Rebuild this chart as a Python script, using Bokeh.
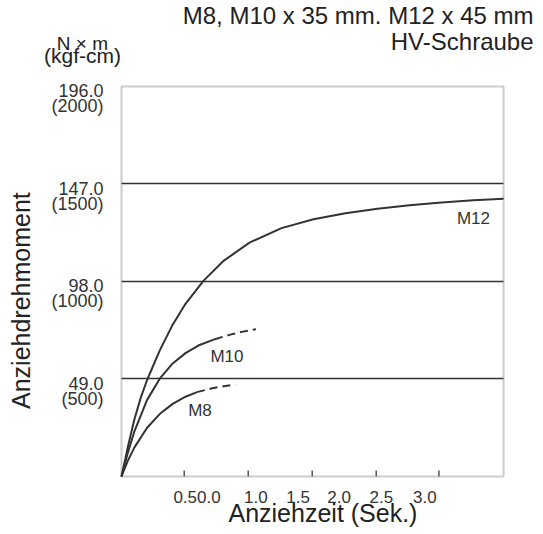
from math import pi
from bokeh.plotting import figure
from bokeh.models import BoxAnnotation, FixedTicker, Label, Range1d
from bokeh.embed import file_html
from bokeh.resources import INLINE

FONT = "Liberation Sans"
INK = "#333333"
FRAME = "#555555"
TEXT = "#222222"

# Anziehzeit in Sekunden, Anziehdrehmoment in N x m
m12_t = [0, 0.05, 0.1, 0.15, 0.2, 0.3, 0.4, 0.5, 0.64, 0.8, 1.0, 1.25, 1.5, 1.75, 2.0, 2.25, 2.5, 2.75, 2.985]
m12_nm = [0, 15, 28.5, 39.5, 48.5, 63.5, 76.3, 86.8, 98.3, 108.5, 117.5, 124.8, 129.3, 132.3, 134.5, 136.3, 137.7, 138.8, 139.6]

m10_t = [0, 0.05, 0.1, 0.2, 0.3, 0.4, 0.5, 0.6, 0.73]
m10_nm = [0, 12, 22.5, 38.5, 49.3, 56.8, 62, 65.8, 69]
m10_dash_t = [0.73, 0.85, 0.95, 1.05]
m10_dash_nm = [69, 71.3, 72.8, 74]

m8_t = [0, 0.05, 0.1, 0.2, 0.3, 0.4, 0.5, 0.59]
m8_nm = [0, 8, 14.5, 24.5, 31.5, 36.5, 40.1, 42.4]
m8_dash_t = [0.59, 0.7, 0.8, 0.89]
m8_dash_nm = [42.4, 44.2, 45.4, 46.2]

curve_names = ["M12", "M10", "M8"]

# y axis: N x m with kgf-cm in brackets
y_tick_nm = [49, 98, 147, 196]
y_tick_kgf = [500, 1000, 1500, 2000]
grid_nm = [49, 98, 147]

# x axis: tick marks and the (shifted) labels as printed
x_tick_pos = [0.49, 0.99, 1.49, 1.99, 2.48]
x_label_pos = [0.59, 1.05, 1.38, 1.70, 2.03, 2.37]
x_labels = ["0.50.0", "1.0", "1.5", "2.0", "2.5", "3.0"]

t_max = 2.985
nm_max = 196

# the frame fills the whole canvas, both axes sit at the origin
p = figure(width=541, height=530, x_range=Range1d(-0.9453, 3.2813), y_range=Range1d(-27.14, 239.2),
           output_backend="svg", toolbar_location=None, min_border=0)
p.outline_line_color = None
p.xgrid.visible = False
p.ygrid.ticker = FixedTicker(ticks=grid_nm)
p.ygrid.cross_bounds = (0, t_max)
p.ygrid.grid_line_color = INK
p.ygrid.grid_line_width = 1.5

p.add_layout(BoxAnnotation(left=0, right=t_max, bottom=0, top=nm_max, fill_color=None,
                           line_color=FRAME, line_width=2, level="underlay"))

xa = p.xaxis[0]
xa.fixed_location = 0
xa.ticker = FixedTicker(ticks=x_label_pos)
xa.major_label_overrides = dict(zip(x_label_pos, x_labels))
xa.major_tick_line_color = None
xa.minor_tick_line_color = None
xa.axis_line_color = None
xa.major_label_standoff = 9
xa.major_label_text_font = FONT
xa.major_label_text_font_size = "17px"
xa.major_label_text_color = INK

# labels sit a little below their gridline in the original
label_shift = 6.25
ya = p.yaxis[0]
ya.fixed_location = 0
ya.ticker = FixedTicker(ticks=[v - label_shift for v in y_tick_nm])
ya.major_label_overrides = {v - label_shift: f"{v:.1f}\n({k})" for v, k in zip(y_tick_nm, y_tick_kgf)}
ya.major_tick_line_color = None
ya.minor_tick_line_color = None
ya.axis_line_color = None
ya.major_label_standoff = 12
ya.major_label_text_font = FONT
ya.major_label_text_font_size = "18px"
ya.major_label_text_line_height = 0.75
ya.major_label_text_color = INK

# inward tick marks on the time axis
p.segment(x0=x_tick_pos, y0=0, x1=x_tick_pos, y1=3, line_color=FRAME, line_width=1.5)

p.line(m12_t, m12_nm, line_color=INK, line_width=2)
p.line(m10_t, m10_nm, line_color=INK, line_width=2)
p.line(m10_dash_t, m10_dash_nm, line_color=INK, line_width=2, line_dash="8 5")
p.line(m8_t, m8_nm, line_color=INK, line_width=2)
p.line(m8_dash_t, m8_dash_nm, line_color=INK, line_width=2, line_dash="8 5")


def text(s, x, y, size, align="center", baseline="alphabetic", angle=0, color=TEXT):
    p.add_layout(Label(x=x, y=y, text=s, text_font=FONT, text_font_size=size, text_color=color,
                       text_align=align, text_baseline=baseline, angle=angle))


for name, lx, ly in zip(curve_names, [2.75, 0.824, 0.613], [129.6, 60.2, 33.1]):
    text(name, lx, ly, "17px", baseline="middle", color=INK)

text("M8, M10 x 35 mm. M12 x 45 mm", 3.219, 231.8, "24px", align="right")
text("HV-Schraube", 3.219, 218.6, "24px", align="right")
text("N \u00d7 m", -0.305, 217.5, "19px")
text("(kgf-cm)", -0.305, 211.5, "21px")
text("Anziehzeit (Sek.)", 1.574, -18.4, "25px")
text("Anziehdrehmoment", -0.789, 88.4, "25px", baseline="middle", angle=pi / 2)

open("out.html", "w").write(file_html(p, INLINE))
